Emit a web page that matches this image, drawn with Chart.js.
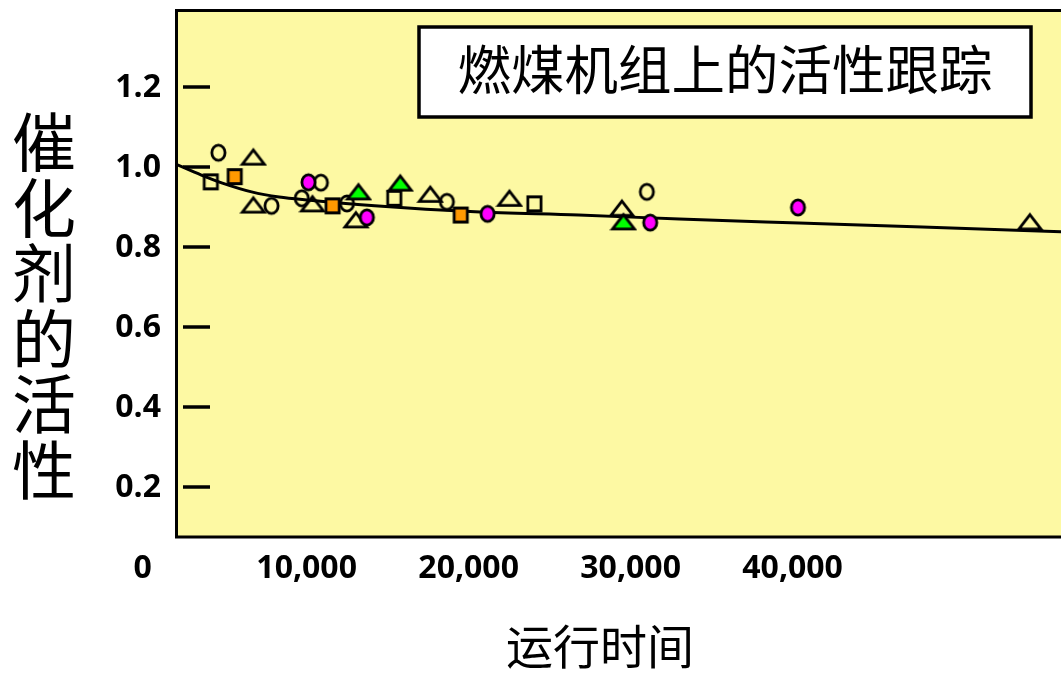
<!DOCTYPE html>
<html>
<head>
<meta charset="utf-8">
<script src="https://cdn.jsdelivr.net/npm/chart.js@4.4.1/dist/chart.umd.min.js"></script>
<style>
  html, body { margin: 0; padding: 0; background: #ffffff; overflow: hidden; }
  #wrap { width: 1061px; height: 674px; }
</style>
</head>
<body>
<div id="wrap"><canvas id="c" width="1061" height="674"></canvas></div>
<script>
// Operating hours vs. catalyst activity, one [hours, activity] list per marker family
const openCircles   = [[4550, 1.036], [7830, 0.903], [9700, 0.922], [10880, 0.961], [12490, 0.909], [18660, 0.913], [31000, 0.938]];
const openTriangles = [[6710, 1.025], [6710, 0.905], [10360, 0.908], [13040, 0.868], [17630, 0.932], [22520, 0.922], [29460, 0.897], [54650, 0.863]];
const openSquares   = [[4080, 0.963], [15410, 0.922], [24060, 0.908]];
const orangeSquares = [[5560, 0.976], [11600, 0.903], [19510, 0.880]];
const magentaDots   = [[10110, 0.962], [13720, 0.874], [21170, 0.883], [31210, 0.861], [40330, 0.899]];
const greenTriangles = [[13200, 0.938], [15780, 0.960], [29560, 0.863]];

// Fitted decay curve
const trendHours    = [1950, 3500, 4800, 6600, 8300, 10200, 14200, 20400, 26800, 33000, 40400, 48000, 56600];
const trendActivity = [1.007, 0.980, 0.960, 0.938, 0.925, 0.917, 0.903, 0.888, 0.880, 0.870, 0.860, 0.850, 0.838];

// Axis labels
const xTickValues = [0, 10000, 20000, 30000, 40000];
const xTickLabels = ['0', '10,000', '20,000', '30,000', '40,000'];
const yTickValues = [0.2, 0.4, 0.6, 0.8, 1.0, 1.2];
const yTickLabels = ['0.2', '0.4', '0.6', '0.8', '1.0', '1.2'];

const chartTitle = '燃煤机组上的活性跟踪';
const yAxisTitle = '催化剂的活性';
const xAxisTitle = '运行时间';

const PLOT_BG = '#fdf9a3';
const TICK_FONT = 'bold 32px "Open Sans", "Noto Sans", sans-serif';
const CJK = '"Noto Sans CJK SC", "Noto Sans", sans-serif';

function toPoints(list) { return list.map(p => ({ x: p[0], y: p[1] })); }

// Marker glyphs drawn once onto small canvases and used as point styles
function makeMarker(shape, fill) {
  const W = shape === 'tri' ? 28 : 19, H = 21;
  const c = document.createElement('canvas');
  c.width = W; c.height = H;
  const g = c.getContext('2d');
  g.lineWidth = 2.8;
  g.strokeStyle = '#000';
  g.lineJoin = 'miter';
  const cx = W / 2, cy = H / 2;
  g.beginPath();
  if (shape === 'circle') {
    g.ellipse(cx, cy, 6.6, 7.6, 0, 0, Math.PI * 2);
  } else if (shape === 'square') {
    g.rect(cx - 6.6, cy - 7.0, 13.2, 14.0);
  } else {
    g.moveTo(cx, cy - 7.2);
    g.lineTo(cx + 11.0, cy + 7.2);
    g.lineTo(cx - 11.0, cy + 7.2);
    g.closePath();
  }
  if (fill) { g.fillStyle = fill; g.fill(); }
  g.stroke();
  return c;
}

function markerSet(list, style) {
  return {
    type: 'scatter',
    data: toPoints(list),
    pointStyle: style,
    pointRadius: 8,
    pointHoverRadius: 8,
    showLine: false
  };
}

const frame = {
  id: 'frame',
  beforeDatasetsDraw(chart) {
    const { ctx, chartArea: a, scales: { y } } = chart;
    ctx.save();
    ctx.fillStyle = PLOT_BG;
    ctx.fillRect(a.left, a.top, a.right - a.left, a.bottom - a.top);
    // short tick dashes inside the plot
    ctx.strokeStyle = '#000';
    ctx.lineWidth = 3.5;
    yTickValues.forEach(v => {
      const py = Math.round(y.getPixelForValue(v));
      ctx.beginPath();
      ctx.moveTo(183, py);
      ctx.lineTo(210, py);
      ctx.stroke();
    });
    ctx.restore();
  },
  afterDraw(chart) {
    const { ctx, chartArea: a, scales: { x, y } } = chart;
    ctx.save();
    // plot border (left, top, bottom)
    ctx.strokeStyle = '#000';
    ctx.lineWidth = 3;
    ctx.beginPath();
    ctx.moveTo(a.right + 2, a.top + 0.5);
    ctx.lineTo(a.left + 0.5, a.top + 0.5);
    ctx.lineTo(a.left + 0.5, a.bottom);
    ctx.lineTo(a.right + 2, a.bottom);
    ctx.stroke();

    // tick labels
    ctx.fillStyle = '#000';
    ctx.font = TICK_FONT;
    ctx.textBaseline = 'middle';
    ctx.textAlign = 'right';
    yTickValues.forEach((v, i) => ctx.fillText(yTickLabels[i], 161, y.getPixelForValue(v) + 1));
    ctx.textAlign = 'center';
    xTickValues.forEach((v, i) => ctx.fillText(xTickLabels[i], x.getPixelForValue(v) - (v === 0 ? 2 : 0), 569));

    // axis titles
    ctx.font = '64px ' + CJK;
    ctx.textAlign = 'center';
    ctx.textBaseline = 'middle';
    [...yAxisTitle].forEach((ch, i) => ctx.fillText(ch, 44, 142 + i * 65.5));
    ctx.font = '47px ' + CJK;
    ctx.fillText(xAxisTitle, 600, 646);

    // title box inside the plot
    ctx.fillStyle = '#ffffff';
    ctx.fillRect(419, 27, 612, 90);
    ctx.lineWidth = 3.5;
    ctx.strokeRect(419, 27, 612, 90);
    ctx.fillStyle = '#000';
    ctx.font = '53.5px ' + CJK;
    ctx.fillText(chartTitle, 725, 70);
    ctx.restore();
  }
};

new Chart(document.getElementById('c'), {
  data: {
    datasets: [
      markerSet(magentaDots, makeMarker('circle', '#ff00ff')),
      markerSet(orangeSquares, makeMarker('square', '#ff9900')),
      markerSet(greenTriangles, makeMarker('tri', '#00ff00')),
      markerSet(openCircles, makeMarker('circle', null)),
      markerSet(openTriangles, makeMarker('tri', null)),
      markerSet(openSquares, makeMarker('square', null)),
      {
        type: 'line',
        data: trendHours.map((h, i) => ({ x: h, y: trendActivity[i] })),
        borderColor: '#000',
        borderWidth: 3,
        pointRadius: 0,
        cubicInterpolationMode: 'monotone',
        fill: false
      }
    ]
  },
  options: {
    responsive: false,
    animation: false,
    devicePixelRatio: 1,
    layout: { autoPadding: false, padding: { left: 176, top: 10, right: 0, bottom: 137 } },
    plugins: { legend: { display: false }, tooltip: { enabled: false } },
    events: [],
    scales: {
      x: { type: 'linear', min: 1934, max: 56569, display: false },
      y: { type: 'linear', min: 0.0741, max: 1.3932, display: false }
    }
  },
  plugins: [frame]
});
</script>
</body>
</html>
